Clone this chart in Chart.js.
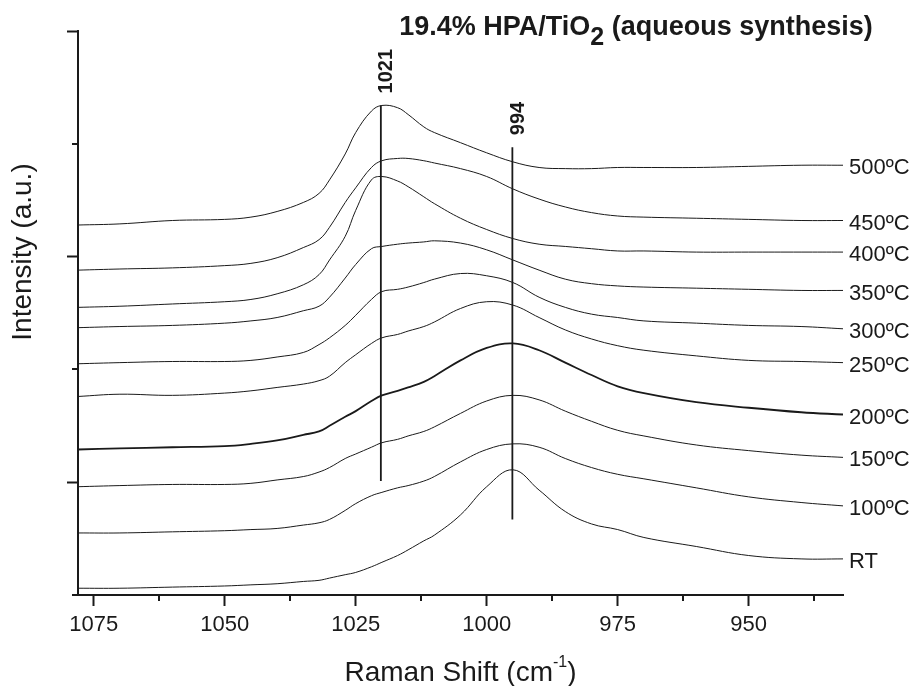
<!DOCTYPE html>
<html>
<head>
<meta charset="utf-8">
<script src="https://cdn.jsdelivr.net/npm/chart.js@4.4.1/dist/chart.umd.min.js"></script>
<style>
    html, body { margin: 0; padding: 0; background: #fff; }
</style>
</head>
<body>
<canvas id="myChart" width="914" height="686"></canvas>
<script>
var shifts = [1078, 1070, 1060, 1050, 1045, 1040, 1035, 1032, 1030, 1027, 1025, 1022, 1020, 1017, 1015,
    1012, 1010, 1005, 1000, 995, 990, 985, 980, 975, 970, 960, 950, 940, 932];

//curve labels, top to bottom
var temps = ['500ºC', '450ºC', '400ºC', '350ºC', '300ºC', '250ºC', '200ºC', '150ºC', '100ºC', 'RT'];

//stacked intensities (a.u., with offsets as plotted)
var i500 = [3.28, 3.29, 3.32, 3.33, 3.35, 3.40, 3.48, 3.56, 3.68, 3.91, 4.10, 4.29, 4.34, 4.32, 4.26,
    4.15, 4.10, 4.01, 3.92, 3.84, 3.79, 3.78, 3.78, 3.79, 3.79, 3.79, 3.80, 3.81, 3.81];
var i450 = [2.88, 2.89, 2.90, 2.92, 2.94, 2.99, 3.08, 3.15, 3.26, 3.48, 3.61, 3.79, 3.85, 3.87, 3.87,
    3.85, 3.83, 3.78, 3.71, 3.60, 3.51, 3.44, 3.39, 3.36, 3.35, 3.34, 3.33, 3.32, 3.32];
var i400 = [2.55, 2.56, 2.58, 2.60, 2.62, 2.67, 2.75, 2.84, 2.97, 3.18, 3.41, 3.68, 3.71, 3.67, 3.62,
    3.53, 3.47, 3.34, 3.24, 3.16, 3.11, 3.09, 3.07, 3.05, 3.05, 3.04, 3.04, 3.04, 3.04];
var i350 = [2.37, 2.38, 2.39, 2.41, 2.43, 2.46, 2.52, 2.56, 2.64, 2.81, 2.93, 3.07, 3.09, 3.11, 3.12,
    3.13, 3.14, 3.12, 3.06, 2.97, 2.88, 2.80, 2.76, 2.74, 2.73, 2.72, 2.71, 2.70, 2.70];
var i300 = [2.05, 2.06, 2.07, 2.07, 2.08, 2.11, 2.15, 2.22, 2.28, 2.39, 2.48, 2.62, 2.69, 2.71, 2.73,
    2.77, 2.80, 2.85, 2.83, 2.77, 2.64, 2.55, 2.49, 2.46, 2.43, 2.41, 2.39, 2.38, 2.36];
var i250 = [1.76, 1.78, 1.77, 1.79, 1.81, 1.84, 1.87, 1.90, 1.94, 2.06, 2.13, 2.23, 2.28, 2.31, 2.34,
    2.38, 2.42, 2.54, 2.60, 2.57, 2.46, 2.35, 2.27, 2.21, 2.17, 2.12, 2.08, 2.07, 2.06];
var i200 = [1.29, 1.30, 1.31, 1.32, 1.34, 1.37, 1.42, 1.45, 1.50, 1.58, 1.63, 1.72, 1.77, 1.81, 1.84,
    1.89, 1.94, 2.08, 2.19, 2.23, 2.17, 2.06, 1.95, 1.85, 1.79, 1.71, 1.66, 1.62, 1.60];
var i150 = [0.96, 0.97, 0.98, 0.98, 0.99, 1.02, 1.05, 1.09, 1.13, 1.21, 1.25, 1.31, 1.35, 1.38, 1.41,
    1.45, 1.49, 1.61, 1.72, 1.77, 1.73, 1.63, 1.54, 1.46, 1.41, 1.33, 1.28, 1.24, 1.22];
var i100 = [0.55, 0.55, 0.56, 0.57, 0.58, 0.59, 0.62, 0.64, 0.67, 0.75, 0.81, 0.88, 0.91, 0.95, 0.97,
    1.01, 1.05, 1.18, 1.29, 1.34, 1.31, 1.21, 1.13, 1.07, 1.03, 0.95, 0.87, 0.82, 0.79];
var iRT = [0.06, 0.06, 0.07, 0.08, 0.09, 0.10, 0.12, 0.13, 0.15, 0.18, 0.20, 0.25, 0.29, 0.35, 0.40,
    0.48, 0.53, 0.71, 0.96, 1.11, 0.93, 0.74, 0.63, 0.58, 0.51, 0.43, 0.35, 0.32, 0.32];

//peak markers (label, drawn position, top and bottom of the line)
var peakLabels = ['1021', '994'];
var peakShift = [1020.2, 995.1];
var peakTop = [4.34, 3.97];
var peakBottom = [1.01, 0.67];

//tick values
var xTicks = [1075, 1050, 1025, 1000, 975, 950];
var xMinor = [1062.5, 1037.5, 1012.5, 987.5, 962.5, 937.5];
var yTicks = [1, 3, 5];
var yMinor = [0, 2, 4];

var titleParts = ['19.4% HPA/TiO', '2', ' (aqueous synthesis)'];
var xTitleParts = ['Raman Shift (cm', '-1', ')'];
var yTitle = 'Intensity (a.u.)';

var FONT = '"Liberation Sans", Arial, Helvetica, sans-serif';
var INK = '#1a1a1a';

var series = [i500, i450, i400, i350, i300, i250, i200, i150, i100, iRT];

var datasets = series.map(function (s, i) {
    return {
        label: temps[i],
        data: shifts.map(function (x, j) { return { x: x, y: s[j] }; }),
        borderColor: INK,
        borderWidth: temps[i] === '200ºC' ? 1.8 : 1,
        pointRadius: 0,
        tension: 0.4,
        fill: false
    };
});

peakLabels.forEach(function (t, i) {
    datasets.push({
        label: 'peak ' + t,
        data: [{ x: peakShift[i], y: peakTop[i] }, { x: peakShift[i], y: peakBottom[i] }],
        borderColor: INK,
        borderWidth: 1.8,
        pointRadius: 0
    });
});

//draws minor ticks, curve labels, peak labels and titles
var annotations = {
    id: 'annotations',
    afterDraw: function (chart) {
        var c = chart.ctx;
        var xs = chart.scales.x;
        var ys = chart.scales.y;
        var area = chart.chartArea;
        c.save();
        c.fillStyle = INK;
        c.strokeStyle = INK;

        //minor ticks
        c.lineWidth = 2;
        c.beginPath();
        xMinor.forEach(function (v) {
            var px = Math.round(xs.getPixelForValue(v));
            c.moveTo(px, area.bottom);
            c.lineTo(px, area.bottom + 6);
        });
        yMinor.forEach(function (v) {
            var py = Math.round(ys.getPixelForValue(v));
            c.moveTo(area.left, py);
            c.lineTo(area.left - 6, py);
        });
        c.stroke();

        //curve labels at the right end of each spectrum
        c.font = '22px ' + FONT;
        c.textAlign = 'left';
        c.textBaseline = 'middle';
        temps.forEach(function (t, i) {
            var pts = chart.getDatasetMeta(i).data;
            var last = pts[pts.length - 1];
            c.fillText(t, last.x + 6, last.y + 3);
        });

        //peak labels, rotated
        c.font = 'bold 20px ' + FONT;
        peakLabels.forEach(function (t, i) {
            var px = xs.getPixelForValue(peakShift[i]);
            var py = ys.getPixelForValue(peakTop[i]);
            c.save();
            c.translate(px + 6, py - 12);
            c.rotate(-Math.PI / 2);
            c.textAlign = 'left';
            c.textBaseline = 'middle';
            c.fillText(t, 0, 0);
            c.restore();
        });

        //chart title with subscript
        var big = 'bold 27px ' + FONT;
        var sub = 'bold 25px ' + FONT;
        c.textBaseline = 'alphabetic';
        c.font = big;
        var w0 = c.measureText(titleParts[0]).width;
        var w2 = c.measureText(titleParts[2]).width;
        c.font = sub;
        var w1 = c.measureText(titleParts[1]).width;
        var tx = 636 - (w0 + w1 + w2) / 2;
        c.font = big;
        c.fillText(titleParts[0], tx, 35);
        c.font = sub;
        c.fillText(titleParts[1], tx + w0, 45);
        c.font = big;
        c.fillText(titleParts[2], tx + w0 + w1, 35);

        //x axis title with superscript
        var norm = '28px ' + FONT;
        var small = '16px ' + FONT;
        c.font = norm;
        var a0 = c.measureText(xTitleParts[0]).width;
        var a2 = c.measureText(xTitleParts[2]).width;
        c.font = small;
        var a1 = c.measureText(xTitleParts[1]).width;
        var ax = (area.left + area.right) / 2 - (a0 + a1 + a2) / 2;
        c.font = norm;
        c.fillText(xTitleParts[0], ax, 681);
        c.font = small;
        c.fillText(xTitleParts[1], ax + a0, 667);
        c.font = norm;
        c.fillText(xTitleParts[2], ax + a0 + a1, 681);

        //y axis title
        c.save();
        c.translate(23, 252);
        c.rotate(-Math.PI / 2);
        c.textAlign = 'center';
        c.textBaseline = 'middle';
        c.font = norm;
        c.fillText(yTitle, 0, 0);
        c.restore();

        c.restore();
    }
};

var ctx = document.getElementById('myChart').getContext('2d');

var myChart = new Chart(ctx, {
    type: 'line',
    data: { datasets: datasets },
    options: {
        responsive: false,
        animation: false,
        layout: { padding: { top: 31, right: 71, left: 0, bottom: 0 } },
        plugins: {
            legend: { display: false },
            tooltip: { enabled: false },
            title: { display: false }
        },
        scales: {
            x: {
                type: 'linear',
                reverse: true,
                min: 932,
                max: 1078,
                afterBuildTicks: function (scale) {
                    scale.ticks = xTicks.map(function (v) { return { value: v }; });
                },
                afterFit: function (scale) { scale.height = 91; },
                ticks: {
                    autoSkip: false,
                    maxRotation: 0,
                    padding: 6,
                    color: INK,
                    font: { size: 22, family: FONT },
                    callback: function (v) { return String(v); }
                },
                grid: { drawOnChartArea: false, tickLength: 11, tickWidth: 2, tickColor: INK },
                border: { display: true, width: 2, color: INK }
            },
            y: {
                type: 'linear',
                min: 0,
                max: 5,
                afterBuildTicks: function (scale) {
                    scale.ticks = yTicks.map(function (v) { return { value: v }; });
                },
                afterFit: function (scale) { scale.width = 78; },
                ticks: { display: false },
                grid: { drawOnChartArea: false, tickLength: 11, tickWidth: 2, tickColor: INK },
                border: { display: true, width: 2, color: INK }
            }
        }
    },
    plugins: [annotations]
});
</script>
</body>
</html>
